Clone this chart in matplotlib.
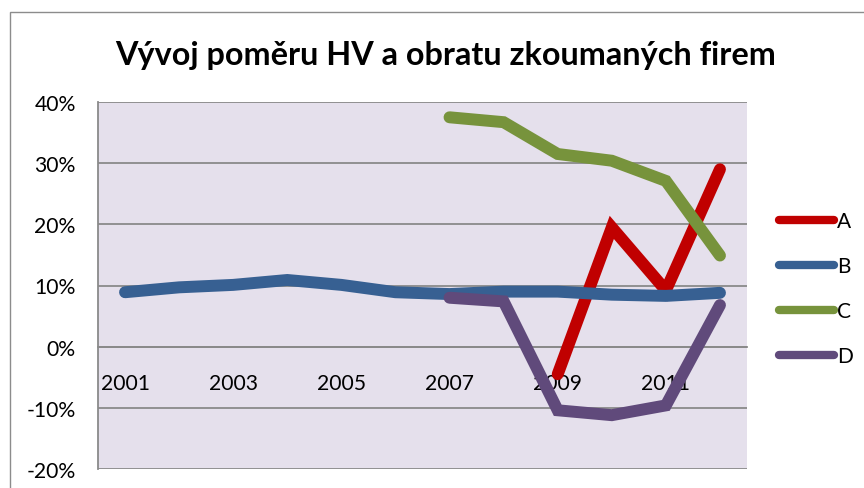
import matplotlib
matplotlib.use("Agg")
import matplotlib.pyplot as plt
from matplotlib.patches import Rectangle
from matplotlib.ticker import FuncFormatter

plt.rcParams['font.family'] = ['Lato', 'DejaVu Sans']
plt.rcParams['axes.unicode_minus'] = False

years = ['2001', '2002', '2003', '2004', '2005', '2006', '2007', '2008', '2009', '2010', '2011', '2012']
series_names = ['A', 'B', 'C', 'D']
A = [None, None, None, None, None, None, None, None, -0.045, 0.195, 0.092, 0.290]
B = [0.089, 0.097, 0.101, 0.109, 0.101, 0.089, 0.086, 0.090, 0.090, 0.085, 0.083, 0.088]
C = [None, None, None, None, None, None, 0.375, 0.367, 0.315, 0.304, 0.271, 0.149]
D = [None, None, None, None, None, None, 0.080, 0.074, -0.104, -0.112, -0.096, 0.068]
colors = ['#C00000', '#376092', '#77933C', '#604A7B']
yticks = [-0.2, -0.1, 0.0, 0.1, 0.2, 0.3, 0.4]

W, H = 864, 489
fig = plt.figure(figsize=(W / 100, H / 100), dpi=100)
fig.patch.set_facecolor('white')

# chart area border
fig.patches.append(Rectangle((10 / W, -0.2), 1.2, 1 - 12.7 / H + 0.2, transform=fig.transFigure,
                             fill=False, edgecolor='#8c8c8c', linewidth=1.0))

ax = fig.add_axes([98 / W, 1 - 470 / H, (747 - 98) / W, (470 - 103) / H])
ax.set_facecolor('#E5E0EC')

x = list(range(len(years)))
for name, vals, c in zip(series_names, [A, B, C, D], colors):
    xs = [i for i, v in zip(x, vals) if v is not None]
    ys = [v for v in vals if v is not None]
    ax.plot(xs, ys, color=c, linewidth=8.6, solid_capstyle='round',
            solid_joinstyle='miter', label=name, zorder=3)

ax.set_xlim(-0.5, len(years) - 0.5)
ax.set_ylim(-0.2, 0.4)
ax.set_yticks(yticks)
ax.yaxis.set_major_formatter(FuncFormatter(lambda v, p: f"{v * 100:.0f}%"))
ax.set_xticks(x[::2])
ax.set_xticklabels(years[::2])

ax.grid(axis='y', color='#8a8a8a', linewidth=1.3, zorder=1)
ax.set_axisbelow(True)
for s in ['top', 'right']:
    ax.spines[s].set_visible(False)
ax.spines['left'].set_color('#8a8a8a')
ax.spines['left'].set_linewidth(1.3)
ax.spines['bottom'].set_position(('data', 0))
ax.spines['bottom'].set_color('#8a8a8a')
ax.spines['bottom'].set_linewidth(1.3)
ax.tick_params(axis='both', length=0, labelsize=15.2, colors='black')
ax.tick_params(axis='x', pad=19)
ax.tick_params(axis='y', pad=16)

leg = ax.legend(loc='upper left', bbox_to_anchor=(779 / W, 1 - 212 / H),
                bbox_transform=fig.transFigure, frameon=False, fontsize=15,
                handlelength=2.65, handletextpad=0.15, labelspacing=1.2,
                borderaxespad=0, borderpad=0)
for ln in leg.get_lines():
    ln.set_linewidth(6)

fig.text(446 / W, 1 - 56 / H, 'Vývoj poměru HV a obratu zkoumaných firem',
         ha='center', va='center', fontsize=23.3, fontweight='bold', color='black')

fig.savefig('out.png', dpi=100)
